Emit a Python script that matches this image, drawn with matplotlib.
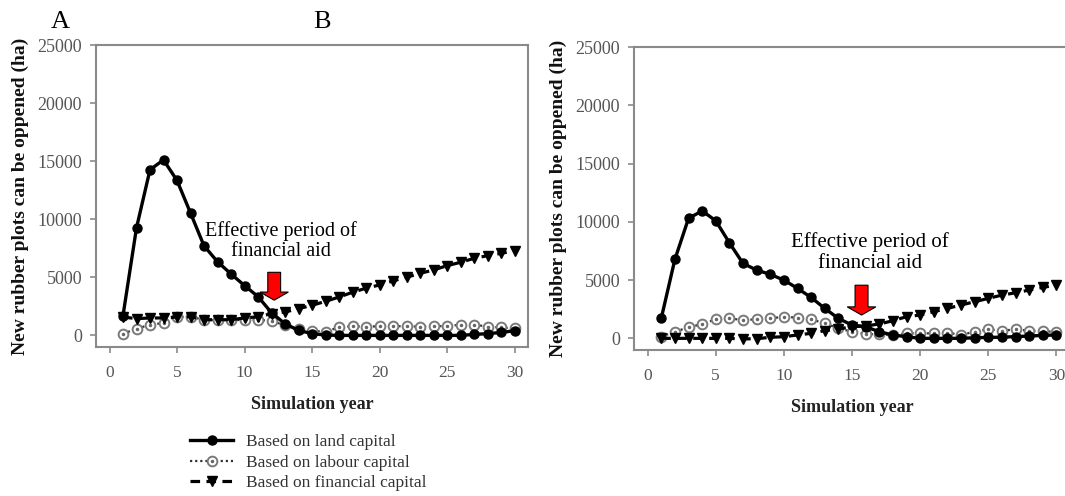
import matplotlib.pyplot as plt
from matplotlib.patches import FancyArrow
from matplotlib.legend_handler import HandlerTuple

plt.rcParams['font.family'] = ['Liberation Serif', 'DejaVu Serif']

years = list(range(1, 31))

# A : new rubber plots (ha) per simulation year
land_a = [1700, 9260, 14260, 15110, 13340, 10540, 7710, 6340, 5290, 4290,
          3340, 1950, 1000, 430, 150, 30, 0, 0, 0, 0,
          0, 0, 0, 0, 0, 0, 80, 150, 250, 400]
labour_a = [140, 570, 920, 1060, 1600, 1600, 1340, 1300, 1300, 1350,
            1350, 1240, 860, 520, 420, 290, 720, 780, 760, 780,
            800, 780, 760, 800, 800, 920, 920, 760, 680, 600]
financial_a = [1580, 1440, 1500, 1500, 1580, 1600, 1350, 1350, 1350, 1500,
               1600, 1870, 2010, 2300, 2590, 2930, 3300, 3710, 4060, 4340,
               4690, 5000, 5340, 5630, 6000, 6290, 6630, 6860, 7060, 7290]

# B
land_b = [1710, 6770, 10290, 10940, 10090, 8200, 6430, 5860, 5490, 5000,
          4290, 3510, 2570, 1710, 1140, 1000, 570, 290, 140, 0,
          0, 0, 0, 50, 80, 100, 150, 200, 250, 290]
labour_b = [140, 570, 940, 1230, 1630, 1710, 1570, 1630, 1710, 1860,
            1770, 1630, 1290, 860, 570, 370, 340, 290, 430, 430,
            430, 490, 290, 570, 770, 660, 770, 660, 600, 570]
financial_b = [0, 0, 0, 0, 0, 0, -50, -30, 90, 140,
               290, 430, 660, 800, 1000, 1060, 1230, 1510, 1860, 2000,
               2290, 2570, 2860, 3140, 3430, 3710, 3910, 4140, 4370, 4570]

labels = ['Based on land capital', 'Based on labour capital', 'Based on financial capital']
aid_text = 'Effective period of\nfinancial aid'

grey = '#8a8a8a'
tick_col = '#555555'

fig = plt.figure(figsize=(10.65, 4.96), dpi=100)


def panel(rect, land, labour, financial):
    ax = fig.add_axes(rect)
    l2, = ax.plot(years, labour, color='#333333', lw=1.6, ls=(0, (1, 1.3)),
                  marker='o', ms=7, mfc='white', mec='#7a7a7a', mew=1.4, zorder=2)
    l2b, = ax.plot(years, labour, ls='none', marker='.', ms=3, color='#666666', zorder=2)
    l3, = ax.plot(years, financial, color='black', lw=2.3, ls=(0, (3, 2)),
                  marker='v', ms=6.5, zorder=3)
    l1, = ax.plot(years, land, color='black', lw=2.4, marker='o', ms=6.5, zorder=4)
    ax.set_xlim(-1, 31)
    ax.set_ylim(-1000, 25000)
    ax.set_xticks([0, 5, 10, 15, 20, 25, 30])
    ax.set_yticks([0, 5000, 10000, 15000, 20000, 25000])
    for s in ax.spines.values():
        s.set_color(grey)
        s.set_linewidth(1.5)
    ax.tick_params(axis='both', colors=grey, labelcolor=tick_col, length=4, width=1.2)
    ax.tick_params(axis='y', labelsize=13, pad=6)
    ax.tick_params(axis='x', labelsize=12.5, pad=9)
    ax.set_xlabel('Simulation year', fontsize=13, fontweight='bold', color='#222222', labelpad=11)
    ax.set_ylabel('New rubber plots can be oppened (ha)', fontsize=14, fontweight='bold',
                  color='#111111', labelpad=6)
    return ax, (l1, (l2, l2b), l3)


ax1, handles = panel([96 / 1065, 1 - 347 / 496, 432 / 1065, 302 / 496], land_a, labour_a, financial_a)
ax2, _ = panel([634 / 1065, 1 - 350 / 496, 436 / 1065, 303 / 496], land_b, labour_b, financial_b)

# annotation + red arrow
ax1.text(12.7, 8100, aid_text, ha='center', va='center', fontsize=14.5, linespacing=1.1)
ax1.add_patch(FancyArrow(12.2, 5430, 0, -2400, width=0.95, head_width=2.1, head_length=700,
                         length_includes_head=True, fc='#ff0000', ec='black', lw=0.8, zorder=6))
ax2.text(16.3, 7350, aid_text, ha='center', va='center', fontsize=15, linespacing=1.1)
ax2.add_patch(FancyArrow(15.7, 4560, 0, -2560, width=0.95, head_width=2.1, head_length=700,
                         length_includes_head=True, fc='#ff0000', ec='black', lw=0.8, zorder=6))

fig.text(60 / 1065, 1 - 22 / 496, 'A', fontsize=19, ha='center', va='center')
fig.text(322 / 1065, 1 - 22 / 496, 'B', fontsize=19, ha='center', va='center')

fig.legend(handles, labels, loc='upper left', bbox_to_anchor=(190 / 1065, 1 - 434 / 496),
           frameon=False, fontsize=12.5, handlelength=2.5, handletextpad=0.7,
           labelspacing=0.25, borderpad=0, borderaxespad=0, labelcolor='#333333',
           handler_map={tuple: HandlerTuple(ndivide=1, pad=0)})

fig.savefig('out.png', dpi=100)
